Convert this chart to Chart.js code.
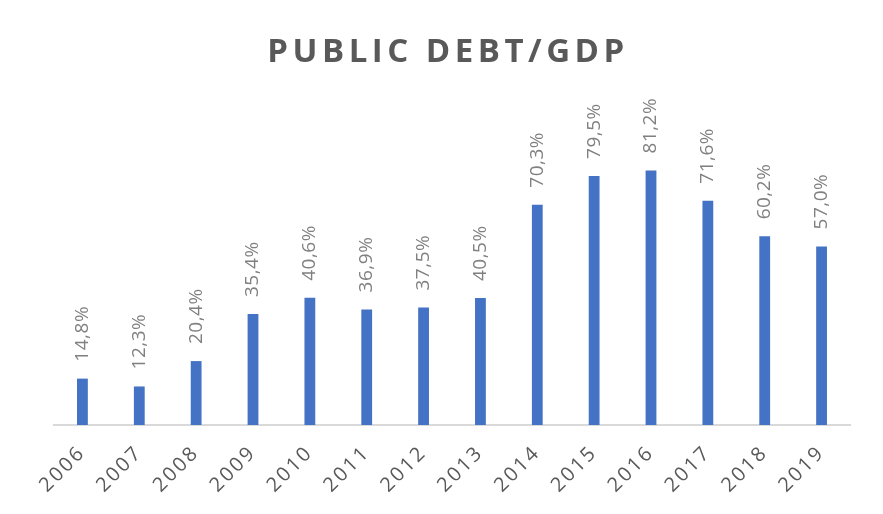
<!DOCTYPE html>
<html>
<head>
<meta charset="utf-8">
<script src="https://cdn.jsdelivr.net/npm/chart.js@4/dist/chart.umd.min.js"></script>
<style>
  html, body { margin: 0; padding: 0; background: #fff; }
  #wrap { width: 883px; height: 514px; }
</style>
</head>
<body>
<div id="wrap"><canvas id="chartDebt"></canvas></div>
<script>
var years = ['2006', '2007', '2008', '2009', '2010', '2011', '2012', '2013', '2014', '2015', '2016', '2017', '2018', '2019'];
var debtToGdp = [14.8, 12.3, 20.4, 35.4, 40.6, 36.9, 37.5, 40.5, 70.3, 79.5, 81.2, 71.6, 60.2, 57.0];
var chartTitle = 'PUBLIC DEBT/GDP';

// title with letter spacing, drawn by hand
var titlePlugin = {
  id: 'spacedTitle',
  afterDraw: function(chart) {
    var ctx = chart.ctx;
    ctx.save();
    ctx.letterSpacing = '4.5px';
    ctx.font = 'bold 33px "Open Sans"';
    ctx.fillStyle = '#595959';
    ctx.textAlign = 'center';
    ctx.textBaseline = 'middle';
    ctx.fillText(chartTitle, 448, 53);
    ctx.restore();
  }
};

// value labels above bars, rotated
var valueLabels = {
  id: 'valueLabels',
  afterDatasetsDraw: function(chart) {
    var ctx = chart.ctx;
    var meta = chart.getDatasetMeta(0);
    ctx.save();
    ctx.letterSpacing = '0.5px';
    ctx.font = '19px "Open Sans"';
    ctx.fillStyle = '#808080';
    ctx.textAlign = 'left';
    ctx.textBaseline = 'middle';
    meta.data.forEach(function(bar, i) {
      ctx.save();
      ctx.translate(bar.x, bar.y - 17);
      ctx.rotate(-Math.PI / 2);
      ctx.fillText(debtToGdp[i].toFixed(1).replace('.', ',') + '%', 0, 0);
      ctx.restore();
    });
    ctx.restore();
  }
};

var spacing = {
  id: 'spacing',
  beforeDraw: function(chart) { chart.ctx.letterSpacing = '2.5px'; }
};

var ctx = document.getElementById('chartDebt').getContext('2d');
var chartDebt = new Chart(ctx, {
  type: 'bar',
  data: {
    labels: years,
    datasets: [{
      data: debtToGdp,
      backgroundColor: '#4472c4',
      barPercentage: 0.38,
      categoryPercentage: 0.5
    }]
  },
  options: {
    responsive: true,
    maintainAspectRatio: false,
    animation: false,
    layout: { padding: { top: 143, left: 54, right: 33, bottom: 0 } },
    plugins: {
      legend: { display: false },
      tooltip: { enabled: false }
    },
    scales: {
      y: { display: false, min: 0, max: 90 },
      x: {
        afterFit: function(scale) { scale.height = 89; },
        grid: { display: false },
        border: { color: '#d9d9d9', width: 2 },
        ticks: {
          color: '#595959',
          font: { family: '"Open Sans"', size: 20 },
          minRotation: 45,
          maxRotation: 45,
          padding: 8
        }
      }
    }
  },
  plugins: [spacing, valueLabels, titlePlugin]
});
</script>
</body>
</html>
